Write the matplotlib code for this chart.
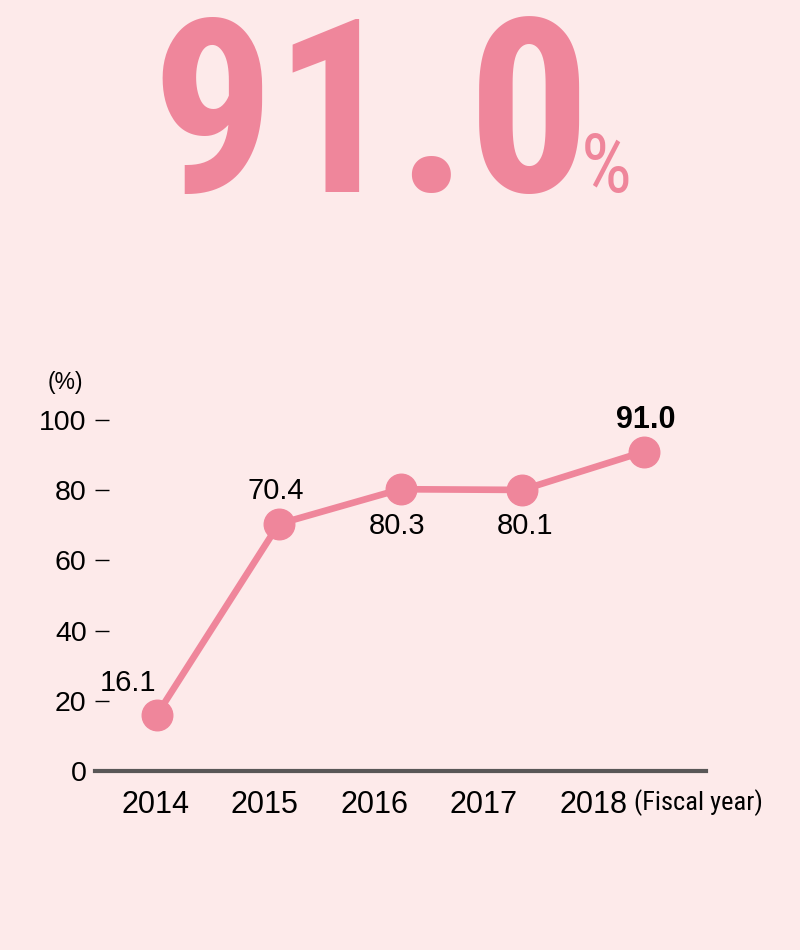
import matplotlib
matplotlib.use("Agg")
import matplotlib.pyplot as plt
from matplotlib import font_manager as fm
import os

years = ["2014", "2015", "2016", "2017", "2018"]
values = [16.1, 70.4, 80.3, 80.1, 91.0]
labels = ["16.1", "70.4", "80.3", "80.1", "91.0"]
yticks = [0, 20, 40, 60, 80, 100]
headline = "91.0"

files = [f.fname for f in fm.fontManager.ttflist]
def find(keys):
    for k in keys:
        for fn in files:
            b = os.path.basename(fn).lower()
            if all(p in b for p in k):
                return fn
    return None

cond_bold = find([("robotocondensed-bold.",), ("liberationsansnarrow-bold.",),
                  ("notosans-condensedbold.",), ("dejavusanscondensed-bold.",),
                  ("condensed", "bold"), ("narrow", "bold")])
cond_reg = find([("robotocondensed-regular.",), ("liberationsansnarrow-regular.",),
                 ("notosans-condensed.",), ("dejavusanscondensed.",),
                 ("condensed",), ("narrow",)])

def fp(path, fallback_family, weight="normal", size=10):
    if path:
        return fm.FontProperties(fname=path, size=size)
    return fm.FontProperties(family=fallback_family, weight=weight, size=size)

REG = "Liberation Sans"
BG = "#fdeaea"
PINK = "#ef869b"

fig = plt.figure(figsize=(8, 9.5), dpi=100, facecolor=BG)
ax = fig.add_axes([95/800, (950-771)/950, 611/800, 386/950])
ax.set_facecolor(BG)

x = list(range(len(years)))
ax.plot(x, values, color=PINK, lw=4.8, marker="o", ms=22, zorder=3)

ax.set_xlim(-0.51, 4.51)
ax.set_ylim(0, 110)
ax.set_yticks(yticks)
ax.set_yticklabels([str(t) for t in yticks], fontsize=20.5, family=REG)
# year labels are spaced a little tighter than the points, leaving room for "(Fiscal year)"
ax.set_xticks([i * 0.9 - 0.016 for i in x])
ax.set_xticklabels(years, fontsize=22, family=REG)
ax.tick_params(axis="y", direction="in", length=10, width=1.0, color="black", pad=6)
ax.tick_params(axis="x", length=0, pad=14)
for s in ["top", "right", "left"]:
    ax.spines[s].set_visible(False)
ax.spines["bottom"].set_color("#595757")
ax.spines["bottom"].set_linewidth(3)
ax.spines["bottom"].set_zorder(2)

# data labels (offsets in pixels)
offsets = [(-29, 32), (-3, 33), (-3, -37), (3, -36), (2, 32)]
for i, (v, l, off) in enumerate(zip(values, labels, offsets)):
    bold = (i == len(values) - 1)
    ax.annotate(l, (i, v), xytext=off, textcoords="offset pixels",
                ha="center", va="center", fontsize=22 if bold else 21,
                fontweight="bold" if bold else "normal", family=REG, color="black")

fig.text(48/800, 1 - 382/950, "(%)", fontsize=16.5, family=REG, ha="left", va="center")
fig.text(634/800, 1 - 803/950, "(Fiscal year)",
         fontproperties=fp(cond_reg, REG, size=19 if cond_reg else 16.5),
         ha="left", va="center")

fig.text(151/800, 1 - 192/950, headline,
         fontproperties=fp(cond_bold, REG, weight="bold", size=175),
         color=PINK, ha="left", va="baseline")
fig.text(581/800, 1 - 192/950, "%",
         fontproperties=fp(cond_reg, REG, size=58),
         color=PINK, ha="left", va="baseline")

fig.savefig("out.png", dpi=100, facecolor=BG)
